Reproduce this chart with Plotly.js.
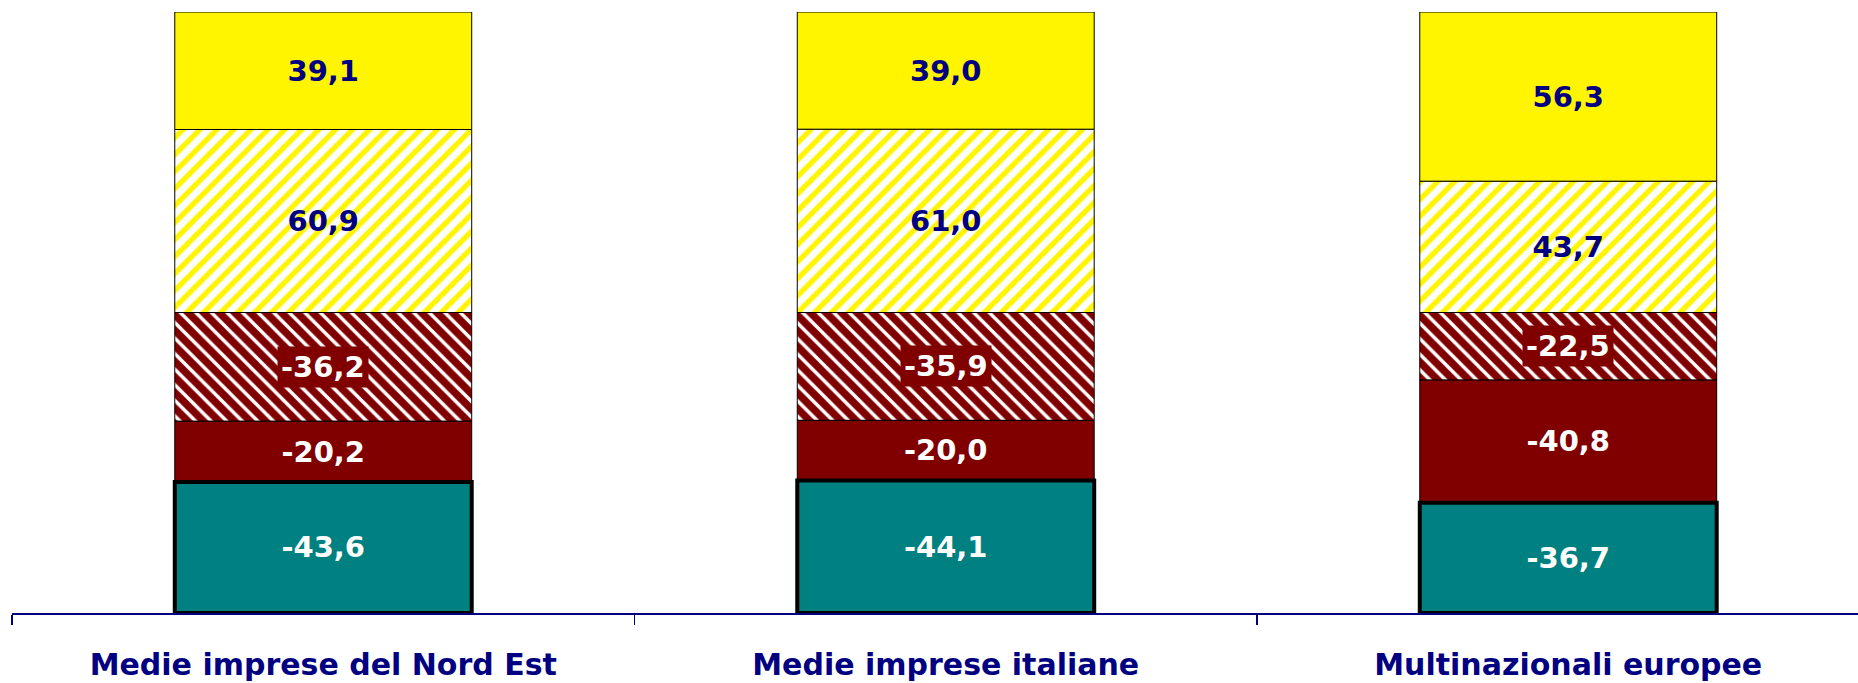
<!DOCTYPE html>
<html>
<head>
<meta charset="utf-8">
<script src="https://cdn.plot.ly/plotly-3.0.1.min.js"></script>
<style>html,body{margin:0;padding:0;background:#fff;}#chart{width:1858px;height:683px;}</style>
</head>
<body>
<div id="chart"></div>
<script>
const categories = ["Medie imprese del Nord Est", "Medie imprese italiane", "Multinazionali europee"];
const yellowHatched = [60.9, 61.0, 43.7];
const yellowSolid = [39.1, 39.0, 56.3];
const redHatched = [-36.2, -35.9, -22.5];
const redSolid = [-20.2, -20.0, -40.8];
const teal = [-43.6, -44.1, -36.7];

const fmt = v => v.toFixed(1).replace('.', ',');
const labelFont = {family: "DejaVu Sans, Verdana, sans-serif", size: 29, color: "#000080", weight: "bold"};
const whiteFont = Object.assign({}, labelFont, {color: "#FFFFFF"});

const base = {
  type: 'bar', x: categories, textposition: 'inside', insidetextanchor: 'middle',
  textangle: 0, constraintext: 'none', hoverinfo: 'skip', cliponaxis: false
};

const traces = [
  Object.assign({}, base, {
    y: yellowHatched, text: yellowHatched.map(fmt), textfont: labelFont,
    marker: {color: '#FFFFFF', line: {color: '#000000', width: 1},
      pattern: {shape: '/', bgcolor: '#FFFFFF', fgcolor: '#FFF500', fgopacity: 1, size: 12, solidity: 0.45, fillmode: 'replace'}}
  }),
  Object.assign({}, base, {
    y: yellowSolid, text: yellowSolid.map(fmt), textfont: labelFont,
    marker: {color: '#FFF500', line: {color: '#000000', width: 1}}
  }),
  Object.assign({}, base, {
    y: redHatched, text: redHatched.map(() => ''), textfont: whiteFont,
    marker: {color: '#FFFFFF', line: {color: '#000000', width: 1},
      pattern: {shape: '\\', bgcolor: '#FFFFFF', fgcolor: '#800000', fgopacity: 1, size: 11, solidity: 0.68, fillmode: 'replace'}}
  }),
  Object.assign({}, base, {
    y: redSolid, text: redSolid.map(fmt), textfont: whiteFont,
    marker: {color: '#800000', line: {color: '#000000', width: 1}}
  }),
  Object.assign({}, base, {
    y: teal, text: teal.map(fmt), textfont: whiteFont,
    marker: {color: '#008080', line: {color: '#000000', width: 4}}
  })
];

const annotations = categories.map((c, i) => ({
  x: c, y: redHatched[i] / 2, xref: 'x', yref: 'y', showarrow: false,
  text: fmt(redHatched[i]), font: whiteFont, bgcolor: '#800000', borderpad: 3
}));

const layout = {
  width: 1858, height: 683,
  margin: {l: 12, r: 0, t: 12, b: 70},
  paper_bgcolor: '#FFFFFF', plot_bgcolor: '#FFFFFF',
  barmode: 'relative', bargap: 0.523,
  showlegend: false,
  xaxis: {
    type: 'category', range: [-0.5, 2.4655], showgrid: false, zeroline: false,
    showline: true, linecolor: '#000080', linewidth: 1.5,
    ticks: 'outside', tickson: 'boundaries', ticklen: 10, tickwidth: 1.5, tickcolor: '#000080',
    ticklabelstandoff: 24,
    tickfont: {family: "DejaVu Sans, Verdana, sans-serif", size: 30, color: '#000080', weight: 'bold'},
    fixedrange: true
  },
  yaxis: {range: [-100, 100], showgrid: false, zeroline: false, showticklabels: false, showline: false, ticks: '', fixedrange: true},
  annotations: annotations
};

Plotly.newPlot('chart', traces, layout, {displayModeBar: false, staticPlot: true});
</script>
</body>
</html>
